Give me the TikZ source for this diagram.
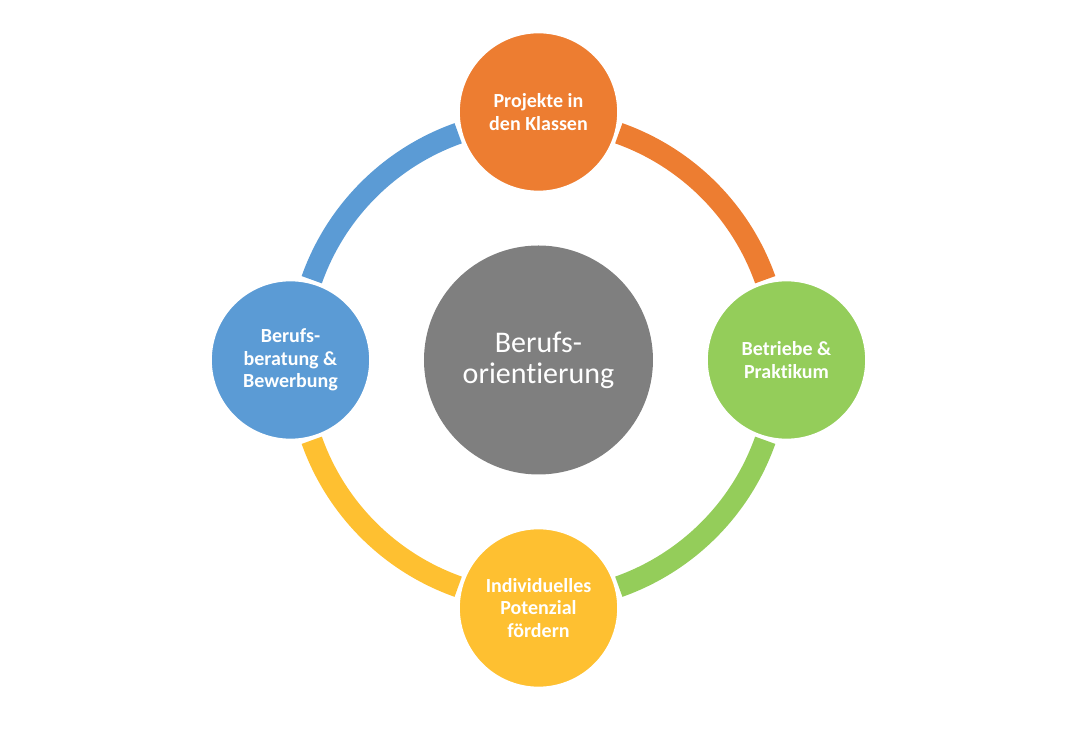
\documentclass[tikz,border=0pt]{standalone}
\usepackage{fontspec}
\setmainfont[Ligatures=NoCommon]{Carlito}
\definecolor{boOrange}{HTML}{ED7D31}
\definecolor{boGruen}{HTML}{94CD5A}
\definecolor{boGelb}{HTML}{FEC031}
\definecolor{boBlau}{HTML}{5B9BD5}
\definecolor{boGrau}{HTML}{7F7F7F}
\begin{document}
\begin{tikzpicture}[x=0.75pt, y=0.75pt,
    kreis/.style={circle, fill=#1, draw=white, line width=2pt, minimum size=120pt, inner sep=0pt,
        text=white, align=center, font=\bfseries\fontsize{15}{17}\selectfont},
    band/.style={draw=#1, line width=16.1pt}]
    \useasboundingbox (-538.5,-374) rectangle (547.5,360);
    \coordinate (mitte) at (0,0);

    %Ring
    \draw[band=boOrange] ([shift={(70.5:180.4pt)}]mitte) arc[start angle=70.5, end angle=19.5, radius=180.4pt];
    \draw[band=boGruen] ([shift={(-19.5:180.4pt)}]mitte) arc[start angle=-19.5, end angle=-70.5, radius=180.4pt];
    \draw[band=boGelb] ([shift={(-109.5:180.4pt)}]mitte) arc[start angle=-109.5, end angle=-160.5, radius=180.4pt];
    \draw[band=boBlau] ([shift={(160.5:180.4pt)}]mitte) arc[start angle=160.5, end angle=109.5, radius=180.4pt];

    %Kreise
    \node[circle, fill=boGrau, minimum size=171.75pt, inner sep=0pt, text=white, align=center,
        font=\fontsize{22.5}{23.5}\selectfont] (orient) at (mitte) {Berufs-\\orientierung};
    \node[kreis=boOrange] (projekte) at (0,248) {Projekte in\\den Klassen};
    \node[kreis=boGruen] (betriebe) at (248,0) {Betriebe \&\\Praktikum};
    \node[kreis=boGelb] (potenzial) at (0,-248) {Individuelles\\Potenzial\\fördern};
    \node[kreis=boBlau] (beratung) at (-248,0) {Berufs-\\beratung \&\\Bewerbung};
\end{tikzpicture}
\end{document}
